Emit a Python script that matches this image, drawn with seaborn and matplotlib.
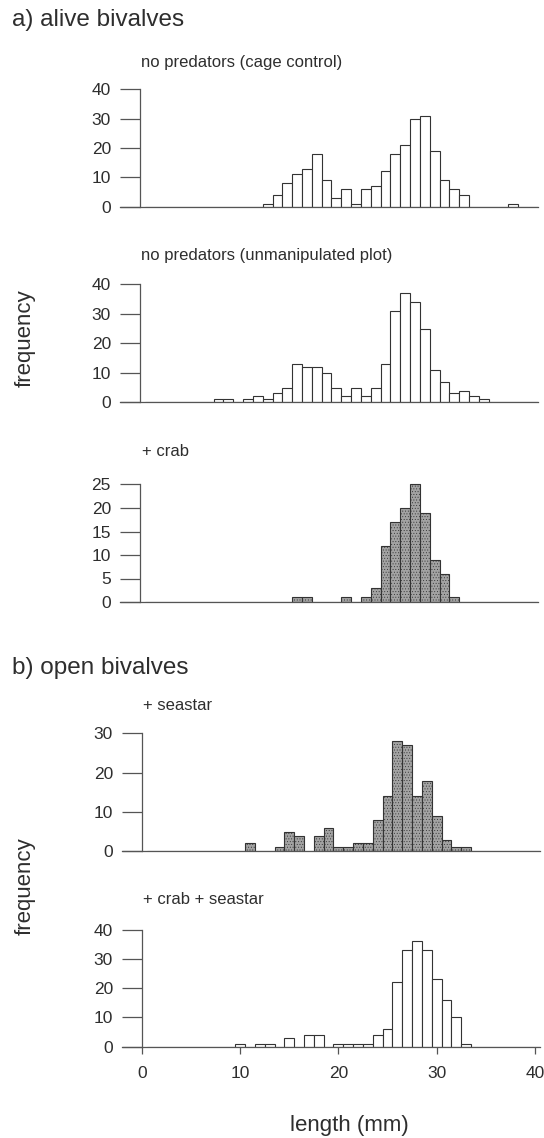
import numpy as np
import pandas as pd
import matplotlib
matplotlib.use("Agg")
import matplotlib.pyplot as plt
import seaborn as sns

# shell length classes (mm), 1 mm bins centred on whole numbers
length_mm = list(range(1, 41))

# counts per length class (index 0 -> 1 mm ... index 39 -> 40 mm)
cage_control = [0, 0, 0, 0, 0, 0, 0, 0, 0, 0, 0, 0, 1, 4, 8, 11, 13, 18, 9, 3,
                6, 1, 6, 7, 12, 18, 21, 30, 31, 19, 9, 6, 4, 0, 0, 0, 0, 1, 0, 0]
unmanipulated = [0, 0, 0, 0, 0, 0, 0, 1, 1, 0, 1, 2, 1, 3, 5, 13, 12, 12, 10, 5,
                 2, 5, 2, 5, 13, 31, 37, 34, 25, 11, 7, 3, 4, 2, 1, 0, 0, 0, 0, 0]
crab = [0, 0, 0, 0, 0, 0, 0, 0, 0, 0, 0, 0, 0, 0, 0, 1, 1, 0, 0, 0,
        1, 0, 1, 3, 12, 17, 20, 25, 19, 9, 6, 1, 0, 0, 0, 0, 0, 0, 0, 0]
seastar = [0, 0, 0, 0, 0, 0, 0, 0, 0, 0, 2, 0, 0, 1, 5, 4, 0, 4, 6, 1,
           1, 2, 2, 8, 14, 28, 27, 14, 18, 9, 3, 1, 1, 0, 0, 0, 0, 0, 0, 0]
crab_seastar = [0, 0, 0, 0, 0, 0, 0, 0, 0, 1, 0, 1, 1, 0, 3, 0, 4, 4, 0, 1,
                1, 1, 1, 4, 6, 22, 33, 36, 33, 23, 16, 10, 1, 0, 0, 0, 0, 0, 0, 0]

panel_titles = ["no predators (cage control)", "no predators (unmanipulated plot)",
                "+ crab", "+ seastar", "+ crab + seastar"]

sns.set_theme(style="white")
plt.rcParams["font.family"] = ["Liberation Sans", "DejaVu Sans"]
plt.rcParams["hatch.linewidth"] = 0.35

W, H = 544, 1138
PX_MM = 9.82
TXT = "#2e2e2e"
AXC = "#555555"

fig = plt.figure(figsize=(W / 100, H / 100), dpi=100)


def panel(counts, x0, y0, ppu, ytop, ystep, title, title_xy, fill, hatch=None, xaxis=False):
    yhi = ytop + 0.6
    left = x0 - 20
    width = 20 + 40.5 * PX_MM
    ax = fig.add_axes([left / W, (H - y0) / H, width / W, yhi * ppu / H])

    df = pd.DataFrame({"length": length_mm, "n": counts})
    df = df[df["n"] > 0]
    sns.histplot(data=df, x="length", weights="n", binwidth=1, binrange=(0.5, 40.5),
                 color=fill, edgecolor="#333333", linewidth=0.8, alpha=1, ax=ax)
    if hatch:
        for p in ax.patches:
            p.set_hatch(hatch)

    ax.set_xlim(-20 / PX_MM, 40.5)
    ax.set_ylim(0, yhi)
    for s in ["top", "right"]:
        ax.spines[s].set_visible(False)
    ax.spines["left"].set_position(("data", 0))
    ax.spines["left"].set_bounds(0, ytop)
    for s in ["left", "bottom"]:
        ax.spines[s].set_color(AXC)
        ax.spines[s].set_linewidth(0.9)

    ax.set_yticks(np.arange(0, ytop + 1, ystep))
    ax.tick_params(axis="y", direction="out", length=14.4, width=0.9, color=AXC,
                   pad=6.5, labelsize=12.5, labelcolor=TXT, left=True)
    if xaxis:
        ax.set_xticks([0, 10, 20, 30, 40])
        ax.tick_params(axis="x", direction="out", length=5, width=0.9, color=AXC,
                       pad=9, labelsize=12.5, labelcolor=TXT, bottom=True)
    else:
        ax.set_xticks([])
    ax.set_xlabel("")
    ax.set_ylabel("")
    ax.patch.set_alpha(0)

    fig.text(title_xy[0] / W, 1 - title_xy[1] / H, title, fontsize=12,
             color=TXT, va="center", ha="left")
    return ax


panel(cage_control, 140, 206.7, 2.935, 40, 10, panel_titles[0], (141, 62), "white")
panel(unmanipulated, 140, 402.3, 2.945, 40, 10, panel_titles[1], (141, 256), "white")
panel(crab, 140, 602, 4.7, 25, 5, panel_titles[2], (142, 451), "#a3a3a3", hatch="......")
panel(seastar, 142, 851.3, 3.93, 30, 10, panel_titles[3], (143, 706), "#a3a3a3", hatch="......")
panel(crab_seastar, 142, 1046.6, 2.92, 40, 10, panel_titles[4], (143, 899), "white", xaxis=True)

fig.text(12 / W, 1 - 20 / H, "a) alive bivalves", fontsize=17.5, color=TXT, va="center", ha="left")
fig.text(12 / W, 1 - 668 / H, "b) open bivalves", fontsize=17.5, color=TXT, va="center", ha="left")
fig.text(25 / W, 1 - 338 / H, "frequency", fontsize=16, color=TXT, rotation=90,
         va="center", ha="center")
fig.text(25 / W, 1 - 886 / H, "frequency", fontsize=16, color=TXT, rotation=90,
         va="center", ha="center")
fig.text(349 / W, 1 - 1125 / H, "length (mm)", fontsize=16, color=TXT,
         va="center", ha="center")

fig.savefig("out.png", dpi=100, facecolor="white")
